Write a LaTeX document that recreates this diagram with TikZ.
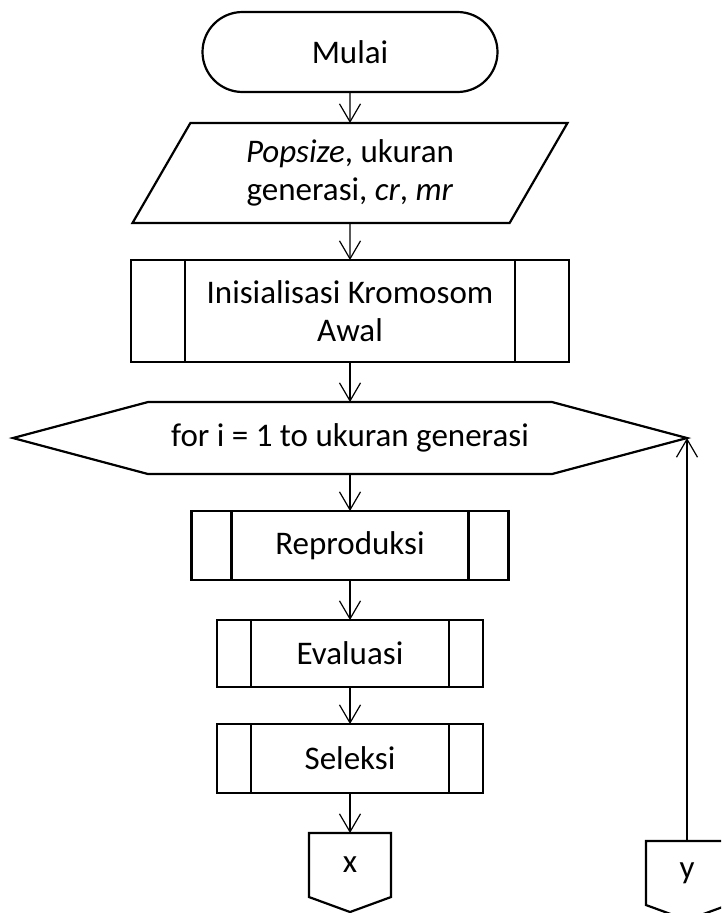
\documentclass[tikz,border=0pt]{standalone}
\usepackage{fontspec}
\setmainfont{Carlito}
\usepackage{tikz}
\usetikzlibrary{positioning}
\usetikzlibrary{shapes.geometric, arrows.meta, calc}
\tikzstyle{base} = [inner sep=0pt, outer sep=0pt, align=center, font=\fontsize{33}{38}\selectfont]
\tikzstyle{terminal} = [base, rectangle, draw, line width=2.2pt, rounded corners=40pt, minimum width=295pt, minimum height=80pt]
\tikzstyle{io} = [base, trapezium, trapezium left angle=49, trapezium right angle=131, trapezium stretches body, draw, line width=2.2pt, minimum width=435pt, minimum height=100pt]
\tikzset{subproc/.style={base, rectangle, draw, line width=2.2pt,
  path picture={\draw[line width=2.2pt]
    ([xshift=#1]path picture bounding box.north west) -- ([xshift=#1]path picture bounding box.south west)
    ([xshift=-#1]path picture bounding box.north east) -- ([xshift=-#1]path picture bounding box.south east);}}}
\tikzstyle{plain} = [base, rectangle]
\tikzstyle{outline} = [draw, line width=2.2pt, line join=miter]
\tikzstyle{line} = [draw, line width=1.2pt, -{Straight Barb[length=18pt,width=21pt,line width=1.2pt]}]

\begin{document}
\begin{tikzpicture}[x=1pt, y=-1pt]
	\clip (0,0) rectangle (721,913);
	
	% Place nodes
	\node [terminal] at (350,52)						(start)		{Mulai};
	\node [io, below=31pt of start]						(input)		{\textit{Popsize}, ukuran\\generasi, \textit{cr}, \textit{mr}};
	\node [subproc=54pt, minimum width=438pt, minimum height=102pt, below=37pt of input] (init) {Inisialisasi Kromosom\\Awal};
	\node [plain, minimum width=404pt, minimum height=72pt, below=40pt of init] (loop) {for i = 1 to ukuran generasi};
	\node [subproc=40pt, minimum width=317pt, minimum height=69pt, below=37pt of loop] (repro) {Reproduksi};
	\node [subproc=34pt, minimum width=266pt, minimum height=67pt, below=40pt of repro] (eval) {Evaluasi};
	\node [subproc=34pt, minimum width=266pt, minimum height=69pt, below=37pt of eval] (sel) {Seleksi};
	\node [plain, minimum width=82pt, minimum height=64pt, below=40pt of sel] (xcon) {x};
	
	% Loop and connector outlines
	\coordinate (loopE) at ($(loop.east)+(135,0)$);
	\coordinate (loopW) at ($(loop.west)+(-135,0)$);
	\draw [outline] (loop.north west) -- (loop.north east) -- (loopE) -- (loop.south east) -- (loop.south west) -- (loopW) -- cycle;
	\node [plain, minimum width=82pt, minimum height=64pt, anchor=north] at ([yshift=-8pt]loopE |- xcon.north) (ycon) {y};
	\draw [outline] (xcon.north west) -- (xcon.north east) -- (xcon.south east) -- ($(xcon.south)+(0,15)$) -- (xcon.south west) -- cycle;
	\draw [outline] (ycon.north west) -- (ycon.north east) -- (ycon.south east) -- ($(ycon.south)+(0,15)$) -- (ycon.south west) -- cycle;
	
	%Draw edges
	\path [line] (start)	-- (input);
	\path [line] (input)	-- (init);
	\path [line] (init)		-- (loop);
	\path [line] (loop)		-- (repro);
	\path [line] (repro)	-- (eval);
	\path [line] (eval)		-- (sel);
	\path [line] (sel)		-- (xcon);
	\path [line] (ycon)		-- (loopE);
	
\end{tikzpicture}
\end{document}
